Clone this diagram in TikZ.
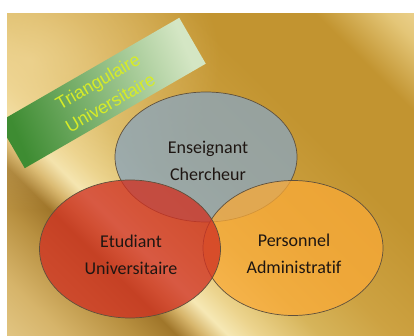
\documentclass[tikz,border=0pt]{standalone}
\usepackage{fontspec}
\newfontfamily\labelfont[Ligatures={NoCommon,NoRare}]{Carlito}
\newfontfamily\titlefont{Liberation Sans}
\usetikzlibrary{shapes.geometric}
\usetikzlibrary{fadings}

% gold background colours
\definecolor{bgcream}{RGB}{230,204,140}
\definecolor{bgtan}{RGB}{214,180,106}
\definecolor{bgbrown}{RGB}{184,144,64}
\definecolor{bgdark}{RGB}{160,118,42}
\definecolor{bgbright}{RGB}{246,232,180}
\definecolor{bgsoft}{RGB}{236,212,142}
\definecolor{bgmid}{RGB}{214,180,90}
\definecolor{bggold}{RGB}{205,162,66}
\definecolor{bgdeep}{RGB}{194,148,48}
\definecolor{bgrise}{RGB}{228,198,120}
\definecolor{bglight}{RGB}{244,222,166}
\definecolor{glowcream}{RGB}{240,214,150}
% title box
\definecolor{boxdark}{RGB}{62,140,50}
\definecolor{boxmid}{RGB}{125,185,95}
\definecolor{boxpale}{RGB}{212,230,196}
\definecolor{titleyellow}{RGB}{214,236,40}
% circles
\definecolor{ensblue}{RGB}{140,165,185}
\definecolor{persorange}{RGB}{250,170,55}
\definecolor{etured}{RGB}{208,50,35}
\definecolor{vennline}{RGB}{95,80,60}
\definecolor{labeltext}{RGB}{30,22,18}

\pgfdeclarehorizontalshading{goldbg}{100bp}{color(0bp)=(bgcream); color(12bp)=(bgcream);
  color(20bp)=(bgtan); color(27bp)=(bgbrown); color(31bp)=(bgdark); color(33.5bp)=(bgtan);
  color(36bp)=(bgbright); color(39bp)=(bgsoft); color(45bp)=(bgmid); color(52bp)=(bggold);
  color(64bp)=(bgdeep); color(76bp)=(bgdeep); color(83bp)=(bgrise); color(90bp)=(bglight);
  color(100bp)=(bglight)}
\tikzfading[name=glowfade, inner color=transparent!20, outer color=transparent!100]

\begin{document}
\begin{tikzpicture}[x=1pt, y=-1pt]
\tikzset{venn/.style={ellipse,draw=vennline,line width=0.7pt,fill opacity=#1},
  vennlabel/.style={font=\labelfont\fontsize{18}{26.5}\selectfont,align=center,text=labeltext,inner sep=0pt},
  titletext/.style={font=\titlefont\fontsize{18}{25}\selectfont,align=center,text=titleyellow,inner sep=0pt}}

\fill[white] (0,0) rectangle (414,336);
\useasboundingbox (0,0) rectangle (414,336);

\begin{scope}
\clip (7,14) rectangle (414,336);
\shade[shading=goldbg, shading angle=45.3] (7,14) rectangle (414,336);
\fill[glowcream, path fading=glowfade] (30,60) ellipse (190 and 150);

% title box - tilted
\begin{scope}[shift={(102,93)}, rotate=30]
\coordinate (tl) at (-104.5,-26.5);
\coordinate (tr) at (104.5,-26.5);
\coordinate (br) at (104.5,26.5);
\coordinate (bl) at (-104.5,26.5);
\end{scope}
\shade[bottom color=boxdark, middle color=boxmid, top color=boxpale, shading angle=-67] (tl) -- (tr) -- (br) -- (bl) -- cycle;
\end{scope}

\node[titletext, rotate=30] (ttl) at (104,92) {Triangulaire\\Universitaire};

% the three sets
\node[venn=0.8, fill=ensblue, minimum width=182pt, minimum height=130pt] (ens) at (206,157) {};
\node[venn=0.75, fill=persorange, minimum width=180pt, minimum height=135pt] (pers) at (293,248) {};
\node[venn=0.78, fill=etured, minimum width=181pt, minimum height=138pt] (etu) at (130,249) {};

\node[vennlabel, xshift=2pt, yshift=-4pt] (enslbl) at (ens) {Enseignant\\Chercheur};
\node[vennlabel, xshift=1pt, yshift=-6pt] (etulbl) at (etu) {Etudiant\\Universitaire};
\node[vennlabel, xshift=1pt, yshift=-6pt] (perslbl) at (pers) {Personnel\\Administratif};

\end{tikzpicture}
\end{document}
